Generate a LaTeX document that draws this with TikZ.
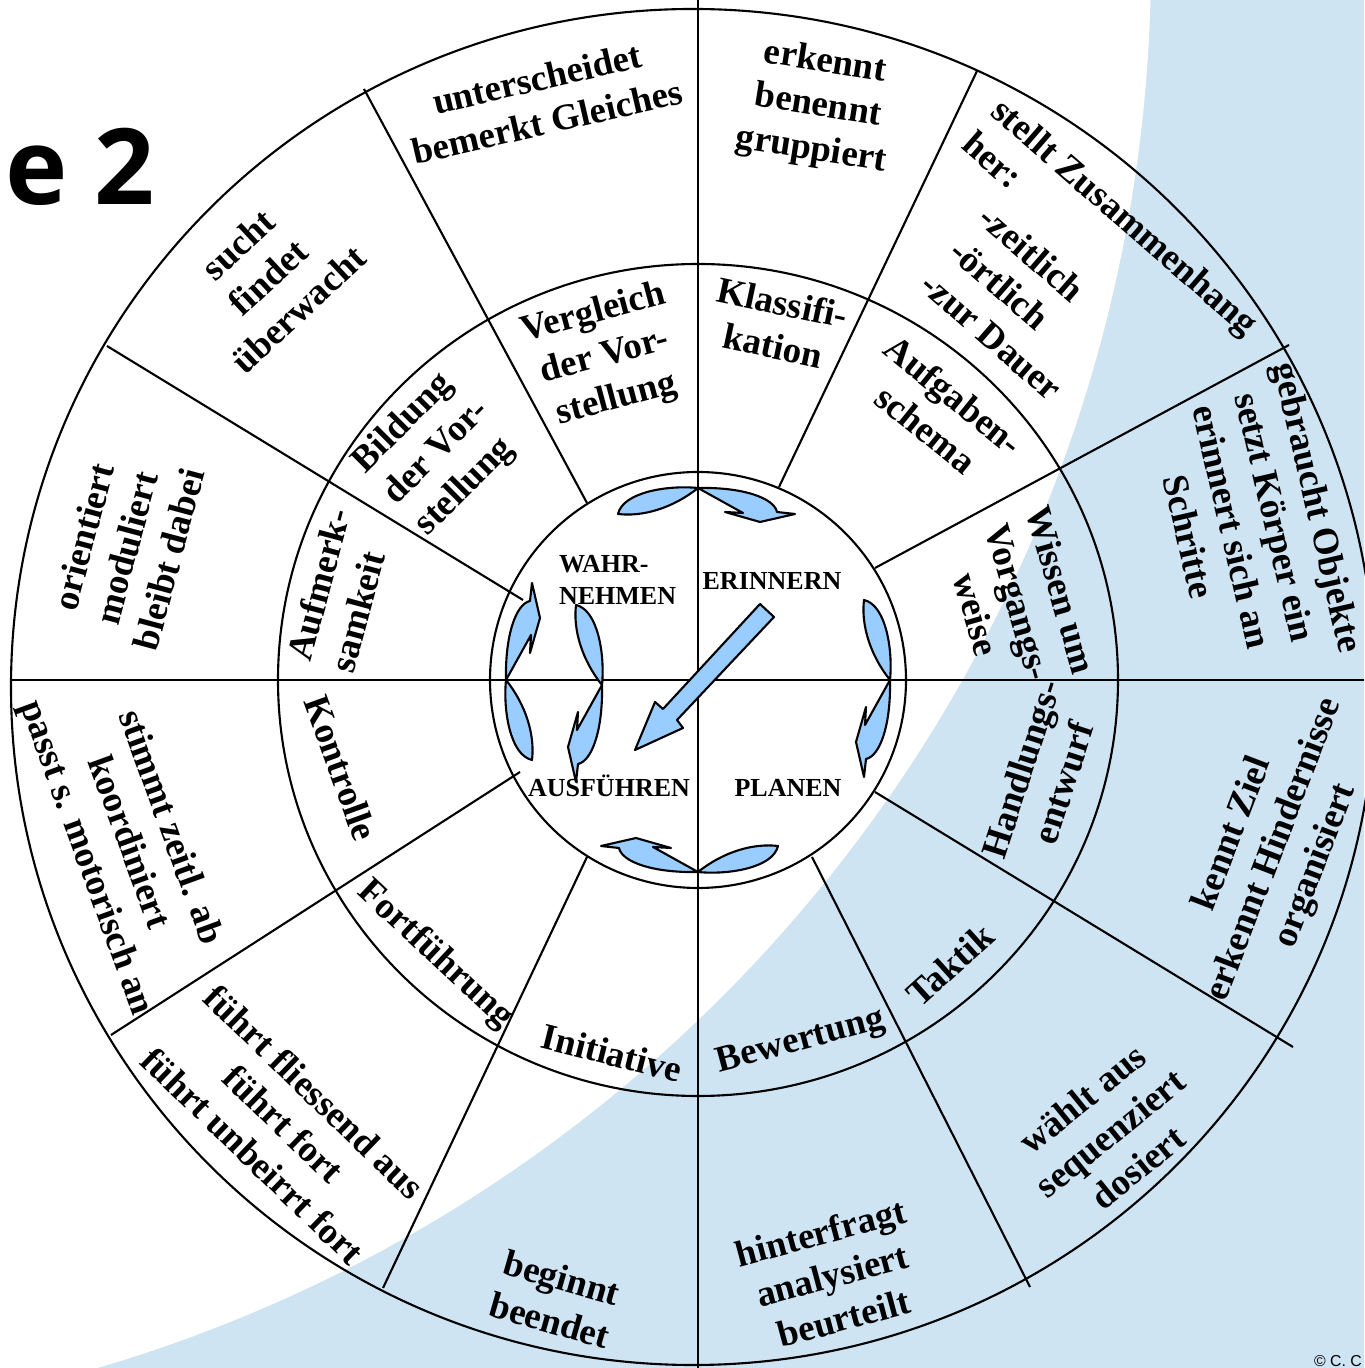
\documentclass[tikz,border=0pt]{standalone}
\usepackage{fontspec}
\setmainfont{Liberation Serif}
\newfontfamily\titlefont{Open Sans}
\newfontfamily\smallsans{Liberation Sans}
\usepackage{tikz}
\definecolor{bgblue}{RGB}{207,228,243}
\definecolor{arrowblue}{RGB}{153,204,255}
\newcommand{\arrowpair}{%
  \filldraw[blob] (0,192) .. controls (-30,195) and (-75,188) .. (-80,166)
    .. controls (-55,163) and (-25,172) .. cycle;
  \filldraw[blob] (0,192) -- (45,167) -- (27,168) -- (62,158) -- (97,166) -- (79,168)
    .. controls (76,182) and (45,193) .. cycle;}

\begin{document}
\begin{tikzpicture}[x=0.1mm,y=0.1mm,line width=0.6pt,
  ringtext/.style={font=\bfseries\fontsize{10.5}{12.6}\selectfont,align=center,inner sep=0pt},
  coretext/.style={font=\bfseries\fontsize{7.4}{9.1}\selectfont,inner sep=0pt},
  blob/.style={draw=black,fill=arrowblue,line width=0.6pt,line join=round}]
\useasboundingbox (-698,-688) rectangle (666,680);
\fill[bgblue] (-698,-688) rectangle (666,680);
\fill[white] (-1014,720) circle (1467);

\draw (-5,-7) ellipse [x radius=682,y radius=678];
\draw (0,0) ellipse [x radius=420,y radius=416];
\draw (0,0) circle (208);
\draw (0,680) -- (0,-688);
\draw (-687,0) -- (666,0);
\foreach \xa/\ya/\xb/\yb in {-111/177/-334/591, -175/80/-591/334, -178/-92/-587/-355,
  -111/-177/-315/-608, 114/-177/332/-607, 177/-112/595/-367, 177/112/591/335, 81/193/279/609}
  \draw (\xa,\ya) -- (\xb,\yb);

\foreach \r in {0,-90,180,90}{
  \begin{scope}[rotate=\r]
    \arrowpair
  \end{scope}}
\begin{scope}[shift={(-288,-5)},rotate=-90]
  \arrowpair
\end{scope}
\filldraw[blob] (62,76) -- (76,63) -- (-21,-40) -- (-15,-48) -- (-63,-70) -- (-43,-22) -- (-35,-29) -- cycle;

\node[coretext,anchor=west,align=left] (wahrnehmen) at (-140,100) {WAHR-\\NEHMEN};
\node[coretext,anchor=base] (erinnern) at (74,90) {ERINNERN};
\node[coretext,anchor=base] (ausfuehren) at (-89,-117) {AUSFÜHREN};
\node[coretext,anchor=base] (planen) at (90,-117) {PLANEN};

\node[ringtext,rotate=15] (vergleich) at (-93,323) {Vergleich\\der Vor-\\stellung};
\node[ringtext,rotate=-12] (klassifikation) at (80,356) {Klassifi-\\kation};
\node[ringtext,rotate=-39] (aufgaben) at (242,268) {Aufgaben-\\schema};
\node[ringtext,rotate=-74] (wissen) at (321,78) {Wissen um\\Vorgangs-\\weise};
\node[ringtext,rotate=72] (handlung) at (344,-96) {Handlungs-\\entwurf};
\node[ringtext,rotate=42] (taktik) at (252,-285) {Taktik};
\node[ringtext,rotate=15] (bewertung) at (103,-362) {Bewertung};
\node[ringtext,rotate=-14] (initiative) at (-86,-373) {Initiative};
\node[ringtext,rotate=-43] (fortfuehrung) at (-263,-275) {Fortführung};
\node[ringtext,rotate=-70] (kontrolle) at (-357,-88) {Kontrolle};
\node[ringtext,rotate=75,align=left] (aufmerk) at (-358,90) {Aufmerk-\\samkeit};
\node[ringtext,rotate=45,align=left] (bildung) at (-261,227) {Bildung\\der Vor-\\stellung};

\node[ringtext,rotate=13] (unterscheidet) at (-156,580) {unterscheidet\\bemerkt Gleiches};
\node[ringtext,rotate=-9] (erkennt) at (120,573) {erkennt\\benennt\\gruppiert};
\node[ringtext,rotate=-41,anchor=west,align=left] (stellt) at (284,559) {stellt Zusammenhang\\her:};
\node[ringtext,rotate=-41,anchor=west,align=left] (zeitlich) at (257,435) {-zeitlich\\-örtlich\\-zur Dauer};
\node[ringtext,rotate=-77] (gebraucht) at (556,158) {gebraucht Objekte\\setzt Körper ein\\erinnert sich an\\Schritte};
\node[ringtext,rotate=69] (kennt) at (577,-170) {kennt Ziel\\erkennt Hindernisse\\organisiert};
\node[ringtext,rotate=39] (waehlt) at (412,-453) {wählt aus\\sequenziert\\dosiert};
\node[ringtext,rotate=15] (hinterfragt) at (134,-595) {hinterfragt\\analysiert\\beurteilt};
\node[ringtext,rotate=-16] (beginnt) at (-142,-619) {beginnt\\beendet};
\node[ringtext,rotate=-44] (fuehrt) at (-414,-444) {führt fliessend aus\\führt fort\\führt unbeirrt fort};
\node[ringtext,rotate=-70] (stimmt) at (-571,-163) {stimmt zeitl. ab\\koordiniert\\passt s. motorisch an};
\node[ringtext,rotate=75] (orientiert) at (-572,132) {orientiert\\moduliert\\bleibt dabei};
\node[ringtext,rotate=43] (sucht) at (-430,403) {sucht\\findet\\überwacht};

\node[anchor=base west,inner sep=0pt,font=\titlefont\bfseries\fontsize{30}{30}\selectfont] (titel) at (-694,475) {e 2};
\node[anchor=base west,inner sep=0pt,font=\smallsans\fontsize{4.5}{5}\selectfont] (copy) at (615,-686) {© C. C};
\end{tikzpicture}
\end{document}
